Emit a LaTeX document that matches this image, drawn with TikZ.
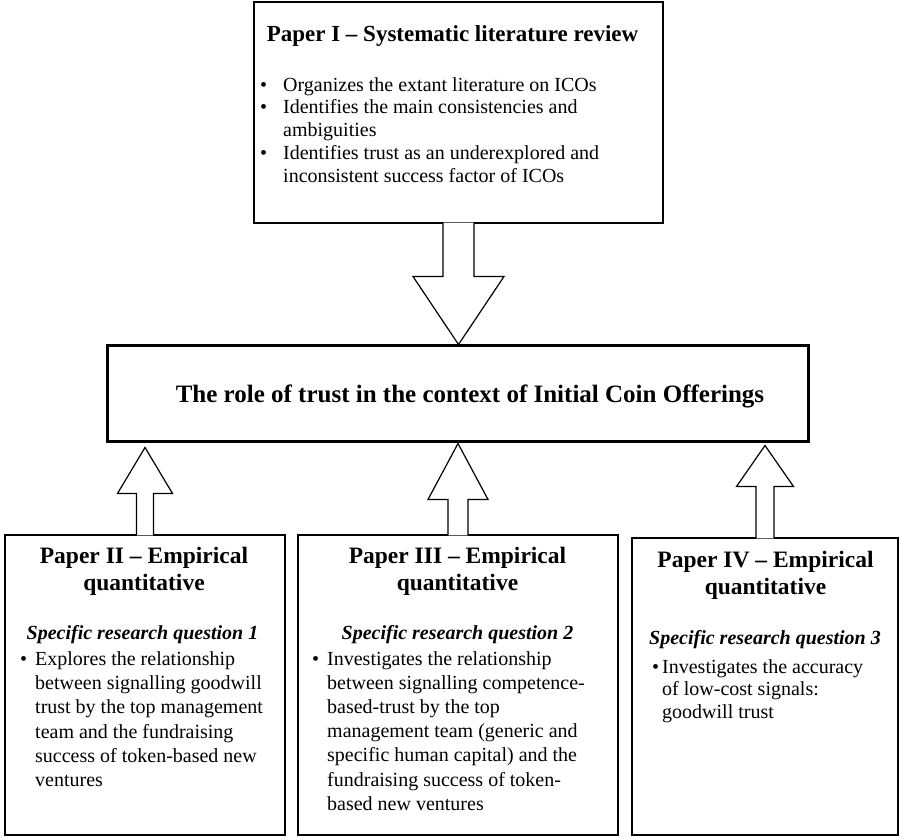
\documentclass[tikz,border=0pt]{standalone}
\usepackage{fontspec}
\setmainfont{Liberation Serif}
\usetikzlibrary{calc}

\newcommand{\bulitem}[1]{\makebox[#1][l]{\textbullet}}
\newcommand{\bulskip}[1]{\hspace*{#1}}
\newcommand{\blockarrow}[5]{%
  \filldraw[blockarrow] let \p1=(#1), \p2=(#2), \n1={sign(\y2-\y1)} in
    (\x1-#3pt,\y1-\n1*1pt) -- (\x1-#3pt,\y2-\n1*#5pt) -- (\x1-#4pt,\y2-\n1*#5pt)
    -- (\x1,\y2) -- (\x1+#4pt,\y2-\n1*#5pt) -- (\x1+#3pt,\y2-\n1*#5pt)
    -- (\x1+#3pt,\y1-\n1*1pt);}

\begin{document}
\begin{tikzpicture}[
  x=1pt, y=1pt,
  paperbox/.style={draw,line width=1.2pt,inner sep=0pt},
  rolebox/.style={draw,line width=3pt,inner sep=0pt},
  heading/.style={font=\fontsize{23.5}{27}\selectfont\bfseries,align=center,inner sep=0pt,anchor=north},
  question/.style={font=\fontsize{20}{24}\selectfont\bfseries\itshape,inner sep=0pt,anchor=base},
  bullets/.style={align=left,inner sep=0pt,anchor=north west},
  blockarrow/.style={draw,fill=white,line width=1.2pt,line join=miter}
]
  \useasboundingbox (0,0) rectangle (900,838);
  \node[paperbox,minimum width=409,minimum height=221] (p1) at (458.5,725.5) {};
  \node[rolebox,minimum width=701,minimum height=96] (role) at (457.5,444) {};
  \node[paperbox,minimum width=280,minimum height=300] (p2) at (145,153) {};
  \node[paperbox,minimum width=320,minimum height=300] (p3) at (458,153) {};
  \node[paperbox,minimum width=266,minimum height=297] (p4) at (765,151.5) {};

  \node[font=\fontsize{23}{27}\selectfont\bfseries,inner sep=0pt,anchor=base] (p1head) at (452.5,796)
    {Paper I -- Systematic literature review};
  \node[bullets,font=\fontsize{20}{22.75}\selectfont] (p1text) at (260,762.9)
    {\strut\bulitem{23pt}Organizes the extant literature on ICOs\\
     \bulitem{23pt}Identifies the main consistencies and\\
     \bulskip{23pt}ambiguities\\
     \bulitem{23pt}Identifies trust as an underexplored and\\
     \bulskip{23pt}inconsistent success factor of ICOs};

  \node[font=\fontsize{25}{30}\selectfont\bfseries,inner sep=0pt,anchor=base] (roletext) at (470,435)
    {The role of trust in the context of Initial Coin Offerings};

  \node[heading] (p2head) at (144,293.9) {\strut Paper II -- Empirical\\quantitative};
  \node[question] (p2q) at (142.5,198) {Specific research question 1};
  \node[bullets,font=\fontsize{20}{24.3}\selectfont] (p2text) at (20,190)
    {\strut\bulitem{15pt}Explores the relationship\\
     \bulskip{15pt}between signalling goodwill\\
     \bulskip{15pt}trust by the top management\\
     \bulskip{15pt}team and the fundraising\\
     \bulskip{15pt}success of token-based new\\
     \bulskip{15pt}ventures};

  \node[heading] (p3head) at (457.5,293.9) {\strut Paper III -- Empirical\\quantitative};
  \node[question] (p3q) at (457.5,198) {Specific research question 2};
  \node[bullets,font=\fontsize{20}{24.2}\selectfont] (p3text) at (312,190)
    {\strut\bulitem{15pt}Investigates the relationship\\
     \bulskip{15pt}between signalling competence-\\
     \bulskip{15pt}based-trust by the top\\
     \bulskip{15pt}management team (generic and\\
     \bulskip{15pt}specific human capital) and the\\
     \bulskip{15pt}fundraising success of token-\\
     \bulskip{15pt}based new ventures};

  \node[heading] (p4head) at (765.5,289.9) {\strut Paper IV -- Empirical\\quantitative};
  \node[question] (p4q) at (765,193) {Specific research question 3};
  \node[bullets,font=\fontsize{20}{22.5}\selectfont] (p4text) at (652,180.75)
    {\strut\bulitem{10pt}Investigates the accuracy\\
     \bulskip{10pt}of low-cost signals:\\
     \bulskip{10pt}goodwill trust};

  \blockarrow{p1.south}{p1.south |- role.north}{15.5}{45.5}{68}
  \blockarrow{p2.north}{$(p2.north |- role.south)+(0,-4)$}{8.5}{27.5}{46}
  \blockarrow{p3.north}{p3.north |- role.south}{10}{30}{56}
  \blockarrow{p4.north}{$(p4.north |- role.south)+(0,-2)$}{9}{28.5}{41}
\end{tikzpicture}
\end{document}
